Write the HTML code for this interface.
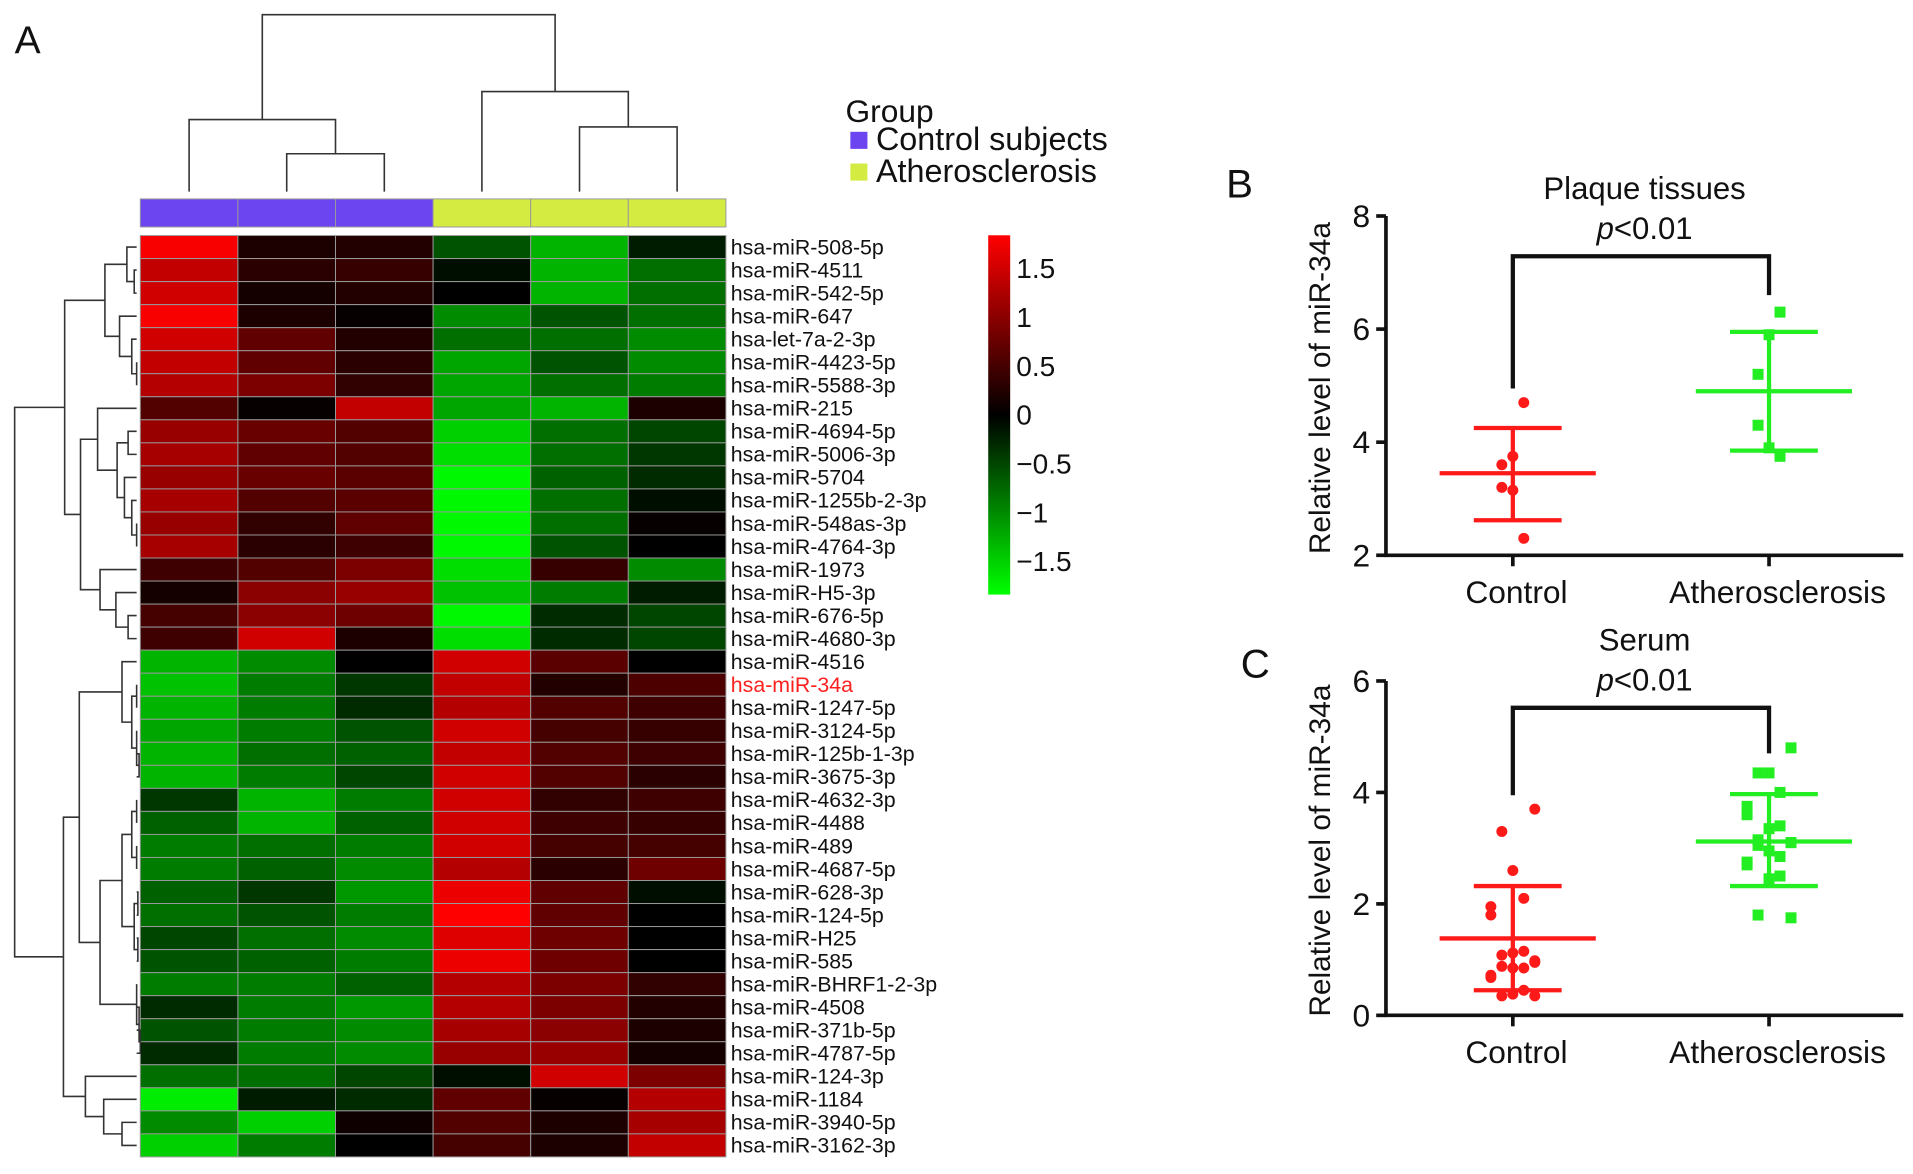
<!DOCTYPE html>
<html><head><meta charset="utf-8"><style>
html,body{margin:0;padding:0;background:#fff;}
svg{display:block;font-family:"Liberation Sans",sans-serif;}
</style></head><body>
<svg id="fig" width="1913" height="1174" viewBox="0 0 1568 962" preserveAspectRatio="none" xmlns="http://www.w3.org/2000/svg"></svg>
<script>
// ---------- Heatmap data ----------
const rowLabels = ["hsa-miR-508-5p","hsa-miR-4511","hsa-miR-542-5p","hsa-miR-647","hsa-let-7a-2-3p","hsa-miR-4423-5p","hsa-miR-5588-3p","hsa-miR-215","hsa-miR-4694-5p","hsa-miR-5006-3p","hsa-miR-5704","hsa-miR-1255b-2-3p","hsa-miR-548as-3p","hsa-miR-4764-3p","hsa-miR-1973","hsa-miR-H5-3p","hsa-miR-676-5p","hsa-miR-4680-3p","hsa-miR-4516","hsa-miR-34a","hsa-miR-1247-5p","hsa-miR-3124-5p","hsa-miR-125b-1-3p","hsa-miR-3675-3p","hsa-miR-4632-3p","hsa-miR-4488","hsa-miR-489","hsa-miR-4687-5p","hsa-miR-628-3p","hsa-miR-124-5p","hsa-miR-H25","hsa-miR-585","hsa-miR-BHRF1-2-3p","hsa-miR-4508","hsa-miR-371b-5p","hsa-miR-4787-5p","hsa-miR-124-3p","hsa-miR-1184","hsa-miR-3940-5p","hsa-miR-3162-3p"];
const sampleGroups = ["control","control","control","athero","athero","athero"];
const heatValues = [
[1.8,0.2,0.25,-0.6,-1.3,-0.2],[1.4,0.3,0.4,-0.1,-1.3,-0.8],[1.5,0.15,0.25,0,-1.3,-0.8],[1.8,0.2,0.05,-1.0,-0.6,-0.8],
[1.5,0.7,0.25,-0.8,-0.8,-1.0],[1.4,0.7,0.3,-1.2,-0.6,-1.0],[1.3,0.9,0.35,-1.2,-0.8,-0.9],[0.6,0.05,1.4,-1.2,-1.3,0.2],
[1.1,0.75,0.6,-1.5,-0.8,-0.5],[1.2,0.7,0.6,-1.6,-0.8,-0.4],[1.1,0.75,0.65,-1.8,-0.7,-0.3],[1.2,0.6,0.65,-1.8,-0.8,-0.1],
[1.1,0.35,0.7,-1.8,-0.8,0.05],[1.2,0.3,0.45,-1.8,-0.6,0],[0.45,0.6,0.9,-1.6,0.4,-1.0],[0.15,1.0,1.1,-1.4,-0.9,-0.2],
[0.5,1.0,0.8,-1.8,-0.3,-0.5],[0.45,1.5,0.2,-1.6,-0.3,-0.5],[-1.3,-1.0,0,1.5,0.65,0],[-1.4,-0.9,-0.4,1.4,0.25,0.55],
[-1.3,-0.9,-0.3,1.3,0.6,0.45],[-1.2,-0.9,-0.6,1.5,0.5,0.4],[-1.3,-0.8,-0.7,1.4,0.6,0.45],[-1.3,-0.9,-0.5,1.5,0.6,0.3],
[-0.4,-1.3,-0.9,1.5,0.35,0.45],[-0.7,-1.3,-0.7,1.5,0.45,0.4],[-0.9,-0.8,-0.9,1.5,0.5,0.5],[-0.9,-0.7,-1.0,1.3,0.3,0.8],
[-0.7,-0.4,-1.1,1.7,0.7,-0.1],[-0.8,-0.6,-0.9,1.85,0.7,0],[-0.5,-0.8,-1.0,1.6,0.8,0],[-0.6,-0.7,-0.9,1.7,0.8,0],
[-0.9,-0.9,-0.7,1.3,0.9,0.35],[-0.3,-0.9,-1.1,1.3,0.9,0.25],[-0.6,-0.9,-1.0,1.2,1.0,0.2],[-0.3,-0.9,-1.0,1.1,1.1,0.15],
[-0.8,-0.8,-0.5,-0.1,1.5,0.9],[-1.7,-0.2,-0.3,0.7,0.05,1.3],[-1.0,-1.5,0.1,0.6,0.2,1.2],[-1.5,-0.9,0,0.5,0.2,1.4]];
const colorbarTicks = [1.5,1,0.5,0,-0.5,-1,-1.5];
// ---------- Panel B/C data ----------
const groupNames = ["Control","Atherosclerosis"];
const plaqueControl = [4.7,3.75,3.6,3.2,3.15,2.3];
const plaqueAthero = [6.3,5.9,5.2,4.3,3.9,3.75];
const plaqueMean = [3.45,4.9];
const plaqueSdHi = [4.25,5.95];
const plaqueSdLo = [2.62,3.85];
const plaqueTicks = [2,4,6,8];
const serumControl = [3.7,3.3,2.6,2.1,1.95,1.8,1.15,1.12,1.08,0.98,0.95,0.88,0.85,0.85,0.72,0.68,0.45,0.38,0.35,0.35];
const serumAthero = [4.8,4.35,4.35,4.0,3.75,3.6,3.4,3.35,3.15,3.1,3.1,3.05,2.95,2.85,2.75,2.7,2.5,2.45,1.8,1.75];
const serumMean = [1.38,3.12];
const serumSdHi = [2.32,3.97];
const serumSdLo = [0.45,2.32];
const serumTicks = [0,2,4,6];

const NS="http://www.w3.org/2000/svg";
const svg=document.getElementById('fig');
function mk(tag,attrs,parent){const e=document.createElementNS(NS,tag);for(const k in attrs)e.setAttribute(k,attrs[k]);(parent||svg).appendChild(e);return e;}
function txt(s,attrs,parent){const e=mk('text',attrs,parent);e.textContent=s;return e;}

// ---------- Heatmap ----------
const hmX0=115,hmX1=595,hmY0=193,hmY1=948;
const colW=(hmX1-hmX0)/6, rowH=(hmY1-hmY0)/rowLabels.length;
const colX=i=>hmX0+colW*i;
const rowY=i=>hmY0+rowH*i;
function heatColor(v){const f=Math.max(-1,Math.min(1,v/1.84));const c=Math.round(255*Math.abs(f));return f>=0?`rgb(${c},0,0)`:`rgb(0,${c},0)`;}
const hm=mk('g',{});


heatValues.forEach((row,r)=>row.forEach((v,c)=>{
  const cell=mk('rect',{x:colX(c),y:rowY(r),width:colW,height:rowH,fill:heatColor(v),stroke:'#999','stroke-width':0.8},hm);
  
  
}));
rowLabels.forEach((l,r)=>{
  const t=txt(l,{x:599,y:rowY(r)+rowH/2+6,'font-size':17.5,fill:l==='hsa-miR-34a'?'#ff2020':'#111'});
  
  
});
// group bar
sampleGroups.forEach((g,c)=>{
  const b=mk('rect',{x:colX(c),y:163,width:colW,height:23,fill:g==='control'?'#6d45f0':'#d4ec42',stroke:'#999','stroke-width':0.8});
  
  
});
// column dendrogram
const colTree=[12,[98,0,[126,1,2]],[75,3,[104,4,5]]];
const dg=mk('g',{stroke:'#333','stroke-width':1.3,fill:'none'});


function colNode(n){ if(typeof n==='number')return {x:colX(n)+colW/2,y:157};
  const a=colNode(n[1]),b=colNode(n[2]);
  mk('path',{d:`M${a.x},${a.y}V${n[0]}H${b.x}V${b.y}`},dg);
  return {x:(a.x+b.x)/2,y:n[0]};}
colNode(colTree);
// row dendrogram
const topA=[86,[104,0,[110,1,2]],[98,3,[108,4,[112,5,6]]]];
const topB=[66,[80,7,[96,[105,8,9],[102,10,[108,11,[112,12,13]]]]],[82,14,[95,15,[105,16,17]]]];
const C1=[100,18,[108,[112,19,20],[112,21,[114,22,23]]]];
const C2=[108,[112,24,25],[112,26,27]];
const C3=[110,[113,28,29],[113,30,31]];
const C4=[112,32,[114,33,[115,34,35]]];
const Cc=[65,C1,[82,[100,C2,C3],C4]];
const Dd=[70,36,[85,37,[100,38,39]]];
const rowTree=[12,[53,topA,topB],[52,Cc,Dd]];
const rg=mk('g',{stroke:'#333','stroke-width':1.3,fill:'none'});


function rowNode(n){ if(typeof n==='number')return {x:112,y:rowY(n)+rowH/2};
  const a=rowNode(n[1]),b=rowNode(n[2]);
  mk('path',{d:`M${a.x},${a.y}H${n[0]}V${b.y}H${b.x}`},rg);
  return {x:n[0],y:(a.y+b.y)/2};}
rowNode(rowTree);
// colorbar
const cbY=v=>340-80*v;
const grad=mk('linearGradient',{id:'cbg',x1:0,y1:0,x2:0,y2:1},mk('defs',{}));
mk('stop',{offset:0,'stop-color':'#ff0000'},grad);mk('stop',{offset:0.5,'stop-color':'#000000'},grad);mk('stop',{offset:1,'stop-color':'#00ff00'},grad);
const cb=mk('rect',{x:810,y:cbY(1.84),width:18,height:cbY(-1.84)-cbY(1.84),fill:'url(#cbg)'});


colorbarTicks.forEach(v=>{
  const t=txt(String(v).replace('-','\u2212'),{x:833,y:cbY(v)+8,'font-size':23,fill:'#111'});
  
  
});
// legend
const lt=txt('Group',{x:693,y:100,'font-size':26,fill:'#111'});


[['Control subjects','#6d45f0',122],['Atherosclerosis','#d4ec42',148]].forEach(([l,c,y])=>{
  const s=mk('rect',{x:697,y:y-14,width:14,height:14,fill:c});
  
  
  const t=txt(l,{x:718,y:y+1,'font-size':26.5,fill:'#111'});
  
  
});
const la=txt('A',{x:12,y:44,'font-size':32,fill:'#111'});



// ---------- Dot plots ----------
function dotPlot(o){
  const g=mk('g',{});
  
  
  const y=v=>o.yBase-(v-o.ticks[0])*(o.yBase-o.yTop)/(o.ticks[o.ticks.length-1]-o.ticks[0]);
  const gx=[1240,1450];
  mk('path',{d:`M1136,${o.yTop}V${o.yBase}H1560`,stroke:'#111','stroke-width':3,fill:'none'},g);
  o.ticks.forEach(t=>{mk('line',{x1:1128,x2:1136,y1:y(t),y2:y(t),stroke:'#111','stroke-width':3},g);
    const tl=txt(String(t),{x:1123,y:y(t)+9,'font-size':26,'text-anchor':'end',fill:'#111'},g);
    
    });
  gx.forEach((x,i)=>{mk('line',{x1:x,x2:x,y1:o.yBase,y2:o.yBase+9,stroke:'#111','stroke-width':3},g);
    const xl=txt(groupNames[i],{x:x+(i?7:3),y:o.yBase+39,'font-size':26,'text-anchor':'middle',fill:'#111'},g);
    
    });
  const yt=txt('Relative level of miR-34a',{x:0,y:0,'font-size':24.5,'text-anchor':'middle',fill:'#111',transform:`translate(1090,${(o.yTop+o.yBase)/2+2}) rotate(-90)`},g);
  
  
  const tt=txt(o.title,{x:1348,y:o.titleY,'font-size':25.5,'text-anchor':'middle',fill:'#111'},g);
  
  
  const pt=mk('text',{x:1348,y:o.titleY+33,'font-size':25.5,'text-anchor':'middle',fill:'#111'},g);
  pt.innerHTML='<tspan font-style="italic">p</tspan>&lt;0.01';
  
  
  const br=mk('path',{d:`M${gx[0]},${y(o.bracket[0])}V${o.bracketY}H${gx[1]}V${y(o.bracket[1])}`,stroke:'#111','stroke-width':3.5,fill:'none'},g);
  
  
  const cols=['#ff1a1a','#22ee22'];
  [o.ctrl,o.ath].forEach((arr,gi)=>{
    const c=cols[gi];
    arr.forEach((v,i)=>{
      const k=o.jit;const off=((i%k)-(k-1)/2)*9*(i%2?1:-1);
      const px=gx[gi]+off, py=y(v);
      const p=gi===0?mk('circle',{cx:px,cy:py,r:4.5,fill:c},g):mk('rect',{x:px-4.5,y:py-4.5,width:9,height:9,fill:c},g);
      
      
    });
    const m=mk('line',{x1:gx[gi]-60,x2:gx[gi]+68,y1:y(o.mean[gi]),y2:y(o.mean[gi]),stroke:c,'stroke-width':3.5},g);
    
    
    mk('line',{x1:gx[gi],x2:gx[gi],y1:y(o.hi[gi]),y2:y(o.lo[gi]),stroke:c,'stroke-width':3.5},g);
    [o.hi[gi],o.lo[gi]].forEach(v=>{
      const s=mk('line',{x1:gx[gi]-32,x2:gx[gi]+40,y1:y(v),y2:y(v),stroke:c,'stroke-width':3.5},g);
      
      
    });
  });
  const pl=txt(o.letter,{x:o.letterX,y:o.letterY,'font-size':33,fill:'#111'});
  
  
}
dotPlot({name:'plaque-dot-plot',title:'Plaque tissues',titleY:163,yTop:177,yBase:455,ticks:plaqueTicks,ctrl:plaqueControl,ath:plaqueAthero,mean:plaqueMean,hi:plaqueSdHi,lo:plaqueSdLo,bracket:[4.95,6.6],bracketY:210,jit:3,letter:'B',letterX:1005,letterY:162});
dotPlot({name:'serum-dot-plot',title:'Serum',titleY:533,yTop:558,yBase:832,ticks:serumTicks,ctrl:serumControl,ath:serumAthero,mean:serumMean,hi:serumSdHi,lo:serumSdLo,bracket:[3.95,4.7],bracketY:580,jit:5,letter:'C',letterX:1017,letterY:555});
</script>
</body></html>
